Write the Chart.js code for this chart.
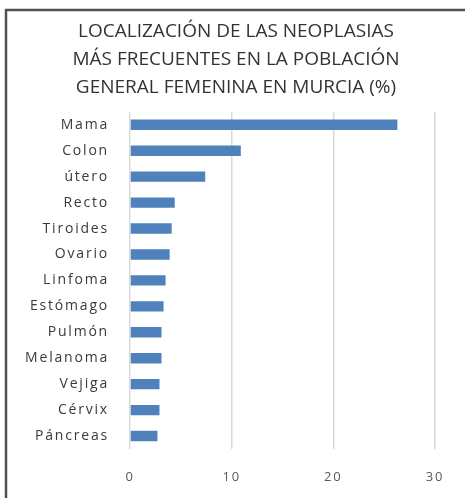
<!DOCTYPE html>
<html>
<head>
<meta charset="utf-8">
<script src="https://cdn.jsdelivr.net/npm/chart.js@4"></script>
<style>
    html, body { margin: 0; padding: 0; background: #fff; }
    #wrap { width: 465px; height: 498px; position: relative; }
</style>
</head>
<body>
<div id="wrap"><canvas id="myChart" width="465" height="498"></canvas></div>
<script>
// datos (%)
const localizaciones = ['Mama', 'Colon', 'útero', 'Recto', 'Tiroides', 'Ovario', 'Linfoma',
    'Estómago', 'Pulmón', 'Melanoma', 'Vejiga', 'Cérvix', 'Páncreas'];
const porcentajes = [26.3, 10.9, 7.4, 4.4, 4.1, 3.9, 3.5, 3.3, 3.1, 3.1, 2.9, 2.9, 2.7];
const tituloLineas = ['LOCALIZACIÓN DE LAS NEOPLASIAS', 'MÁS FRECUENTES EN LA POBLACIÓN', 'GENERAL FEMENINA EN MURCIA (%)'];
const ejeMin = 0;
const ejeMax = 30;
const ejePaso = 10;

// marco gris arriba y a la izquierda + espaciado de letras en los ejes
const marco = {
    id: 'marco',
    beforeDraw(chart) {
        const ctx = chart.ctx;
        ctx.save();
        ctx.strokeStyle = '#505050';
        ctx.lineWidth = 2.5;
        ctx.beginPath();
        ctx.moveTo(6, 498);
        ctx.lineTo(6, 10);
        ctx.lineTo(465, 10);
        ctx.stroke();
        ctx.restore();

        Object.values(chart.scales).forEach((scale) => {
            if (scale._espaciado) return;
            const orig = scale.drawLabels;
            scale.drawLabels = function (area) {
                this.ctx.save();
                this.ctx.letterSpacing = '1.8px';
                orig.call(this, area);
                this.ctx.restore();
            };
            scale._espaciado = true;
        });
    }
};

let myChart = null;
const ctx = document.getElementById('myChart');

myChart = new Chart(ctx, {
    type: 'bar',
    data: {
        labels: localizaciones,
        datasets: [{
            data: porcentajes,
            backgroundColor: '#4F81BD',
            borderWidth: 0,
            categoryPercentage: 1,
            barPercentage: 0.4
        }]
    },
    options: {
        indexAxis: 'y',
        responsive: false,
        animation: false,
        layout: {
            padding: { left: 10, right: 3, top: 0, bottom: 0 }
        },
        plugins: {
            legend: { display: false },
            tooltip: { enabled: false },
            title: {
                display: true,
                text: tituloLineas,
                color: '#333333',
                font: { family: 'Open Sans', size: 19, weight: 'normal', lineHeight: 1.47 },
                padding: { top: 18, bottom: 10 }
            }
        },
        scales: {
            x: {
                min: ejeMin,
                max: ejeMax,
                ticks: {
                    stepSize: ejePaso,
                    color: '#595959',
                    padding: 20,
                    font: { family: 'Open Sans', size: 13 }
                },
                grid: { color: '#d9d9d9', lineWidth: 1.5, drawTicks: false },
                border: { display: false },
                afterFit(scale) { scale.height = 49; }
            },
            y: {
                ticks: {
                    color: '#3a3a3a',
                    padding: 13,
                    font: { family: 'Open Sans', size: 14 }
                },
                grid: { display: false },
                border: { display: false },
                afterFit(scale) { scale.width = 120; }
            },
            // eje vacio a la derecha, solo para dejar el margen
            margen: {
                type: 'category',
                position: 'right',
                ticks: { display: false },
                grid: { display: false },
                border: { display: false },
                afterFit(scale) { scale.width = 27; }
            }
        }
    },
    plugins: [marco]
});
</script>
</body>
</html>
